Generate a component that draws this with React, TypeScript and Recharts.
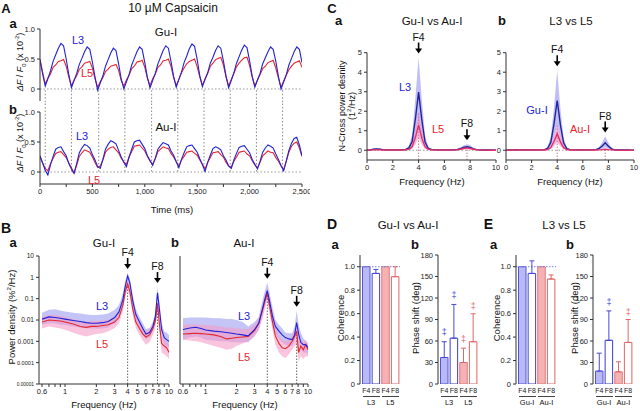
import React from "react";
import {
  ComposedChart,
  LineChart,
  Line,
  Area,
  Bar,
  Cell,
  ErrorBar,
  XAxis,
  YAxis,
  ReferenceLine,
  ReferenceDot,
} from "recharts";

const FONT = '"Liberation Sans", Arial, Helvetica, sans-serif';
const BLUE = "#2222d6";
const RED = "#e6262c";
const BAND_BLUE = "#a4a4f2";
const BAND_PINK = "#f59cc6";
const NAVY = "#23239c";
const MAGENTA = "#e2306a";
const AXIS = "#333";
const TICK = { fontSize: 7.5, fill: "#222" };

// ---------- A: dF/F0 traces (25 ms samples) ----------
const A_STEP_MS = 25;
const A_GU_L3 = [
  0.48, 0.25,
  0.05, 0.17, 0.3, 0.46, 0.57, 0.68, 0.76, 0.72, 0.5, 0.24,
  0.02, 0.14, 0.26, 0.41, 0.51, 0.62, 0.7, 0.66, 0.45, 0.2,
  -0.02, 0.1, 0.22, 0.38, 0.49, 0.6, 0.68, 0.64, 0.42, 0.17,
  0.0, 0.12, 0.24, 0.4, 0.51, 0.62, 0.7, 0.66, 0.44, 0.19,
  0.02, 0.14, 0.26, 0.42, 0.53, 0.64, 0.72, 0.68, 0.46, 0.21,
  0.03, 0.16, 0.28, 0.44, 0.55, 0.67, 0.75, 0.71, 0.49, 0.22,
  0.04, 0.16, 0.27, 0.43, 0.53, 0.64, 0.72, 0.68, 0.47, 0.22,
  0.02, 0.14, 0.27, 0.43, 0.54, 0.65, 0.73, 0.69, 0.47, 0.21,
  0.03, 0.15, 0.26, 0.42, 0.52, 0.62, 0.7, 0.66, 0.46, 0.21,
  0.0, 0.12, 0.24, 0.4, 0.51, 0.62, 0.7, 0.66, 0.44,
];
const A_GU_L5 = [
  0.5, 0.28,
  0.08, 0.18, 0.25, 0.36, 0.4, 0.46, 0.47, 0.49, 0.38, 0.2,
  0.05, 0.15, 0.22, 0.33, 0.37, 0.43, 0.44, 0.46, 0.35, 0.17,
  0.03, 0.12, 0.19, 0.29, 0.33, 0.38, 0.39, 0.41, 0.31, 0.14,
  0.05, 0.15, 0.23, 0.34, 0.38, 0.45, 0.46, 0.48, 0.36, 0.18,
  0.06, 0.17, 0.25, 0.36, 0.4, 0.47, 0.48, 0.5, 0.38, 0.19,
  0.06, 0.16, 0.27, 0.35, 0.42, 0.46, 0.48, 0.5, 0.37, 0.2,
  0.06, 0.17, 0.26, 0.38, 0.43, 0.49, 0.51, 0.53, 0.4, 0.2,
  0.05, 0.16, 0.26, 0.37, 0.43, 0.48, 0.52, 0.53, 0.39, 0.2,
  0.05, 0.15, 0.24, 0.34, 0.38, 0.44, 0.46, 0.48, 0.35, 0.18,
  0.03, 0.13, 0.23, 0.32, 0.38, 0.43, 0.45, 0.47, 0.36,
];
const A_AU_L3 = [
  0.27, 0.15, 0.03,
  -0.05, 0.12, 0.26, 0.38, 0.41, 0.42, 0.34, 0.27, 0.14, 0.05,
  -0.02, 0.14, 0.32, 0.4, 0.46, 0.44, 0.4, 0.29, 0.2, 0.09,
  0.06, 0.21, 0.38, 0.46, 0.52, 0.5, 0.47, 0.36, 0.25, 0.16,
  0.09, 0.25, 0.38, 0.5, 0.52, 0.53, 0.46, 0.39, 0.27, 0.19,
  0.11, 0.23, 0.38, 0.44, 0.49, 0.47, 0.45, 0.35, 0.28, 0.17,
  0.07, 0.21, 0.32, 0.42, 0.44, 0.45, 0.39, 0.33, 0.22, 0.12,
  0.01, 0.16, 0.28, 0.39, 0.42, 0.4, 0.37, 0.27, 0.2, 0.1,
  0.06, 0.2, 0.31, 0.41, 0.43, 0.44, 0.38, 0.32, 0.21, 0.13,
  0.05, 0.18, 0.33, 0.4, 0.45, 0.43, 0.4, 0.3, 0.21, 0.11,
  0.02, 0.18, 0.36, 0.48, 0.56, 0.58, 0.45, 0.27,
];
const A_AU_L5 = [
  0.25, 0.15, 0.06,
  0.02, 0.14, 0.23, 0.31, 0.33, 0.34, 0.29, 0.24, 0.15, 0.07,
  -0.02, 0.11, 0.26, 0.32, 0.37, 0.35, 0.33, 0.25, 0.16, 0.08,
  0.1, 0.2, 0.33, 0.38, 0.41, 0.42, 0.37, 0.32, 0.23, 0.17,
  0.13, 0.25, 0.34, 0.43, 0.44, 0.45, 0.4, 0.35, 0.26, 0.18,
  0.13, 0.22, 0.34, 0.38, 0.42, 0.4, 0.39, 0.31, 0.25, 0.17,
  0.1, 0.2, 0.26, 0.33, 0.34, 0.35, 0.31, 0.28, 0.2, 0.13,
  0.05, 0.16, 0.24, 0.32, 0.33, 0.34, 0.29, 0.25, 0.16, 0.1,
  0.08, 0.18, 0.25, 0.33, 0.34, 0.35, 0.3, 0.27, 0.19, 0.12,
  0.07, 0.16, 0.27, 0.31, 0.35, 0.33, 0.32, 0.24, 0.18, 0.1,
  0.04, 0.18, 0.33, 0.43, 0.48, 0.5, 0.4, 0.26,
];
const A_TROUGHS_MS = [50, 300, 560, 810, 1065, 1315, 1565, 1815, 2065, 2315];
const A_X_TICKS = [0, 250, 500, 750, 1000, 1250, 1500, 1750, 2000, 2250, 2500];
const A_Y_TICKS = [0, 0.5, 1];

// ---------- B: power spectral density (log-log) ----------
const B_FREQ = [0.6, 0.7, 0.8, 0.9, 1, 1.2, 1.4, 1.6, 1.8, 2, 2.3, 2.6, 3, 3.3, 3.6, 3.8, 4, 4.2, 4.5, 4.8, 5.2, 5.6, 6, 6.5, 7, 7.4, 7.75, 8.1, 8.5, 9, 9.5, 10];
const BA_L3 = [0.011, 0.014, 0.013, 0.012, 0.011, 0.0095, 0.0085, 0.0075, 0.007, 0.007, 0.0075, 0.0085, 0.013, 0.024, 0.09, 0.4, 1.15, 0.55, 0.07, 0.018, 0.008, 0.004, 0.0022, 0.0026, 0.005, 0.015, 0.19, 0.03, 0.0035, 0.0015, 0.0012, 0.001];
const BA_L3_HI = [0.022, 0.03, 0.032, 0.028, 0.025, 0.022, 0.02, 0.018, 0.017, 0.017, 0.018, 0.02, 0.03, 0.05, 0.17, 0.7, 1.6, 0.9, 0.13, 0.032, 0.014, 0.007, 0.0038, 0.0042, 0.008, 0.025, 0.35, 0.06, 0.007, 0.003, 0.0025, 0.002];
const BA_L3_LO = [0.006, 0.007, 0.007, 0.006, 0.006, 0.005, 0.0045, 0.004, 0.004, 0.004, 0.004, 0.0045, 0.0075, 0.013, 0.05, 0.22, 0.75, 0.33, 0.035, 0.01, 0.0045, 0.0022, 0.0013, 0.0015, 0.003, 0.008, 0.1, 0.015, 0.0017, 0.0007, 0.0006, 0.0005];
const BA_L5 = [0.008, 0.01, 0.0095, 0.009, 0.008, 0.0065, 0.005, 0.0045, 0.005, 0.005, 0.0055, 0.006, 0.008, 0.013, 0.05, 0.22, 0.5, 0.22, 0.03, 0.008, 0.004, 0.0022, 0.0016, 0.002, 0.004, 0.009, 0.06, 0.006, 0.0008, 0.0006, 0.0005, 0.0003];
const BA_L5_HI = [0.014, 0.017, 0.017, 0.016, 0.014, 0.011, 0.009, 0.008, 0.009, 0.009, 0.0095, 0.01, 0.013, 0.021, 0.085, 0.38, 0.8, 0.38, 0.05, 0.014, 0.007, 0.004, 0.003, 0.0035, 0.007, 0.015, 0.1, 0.012, 0.0016, 0.0012, 0.001, 0.0006];
const BA_L5_LO = [0.004, 0.005, 0.0045, 0.004, 0.0035, 0.0025, 0.002, 0.0017, 0.002, 0.0022, 0.0024, 0.003, 0.0042, 0.007, 0.025, 0.12, 0.28, 0.12, 0.015, 0.0042, 0.002, 0.0011, 0.0007, 0.0009, 0.002, 0.0045, 0.025, 0.0025, 0.0003, 0.00025, 0.0002, 0.00015];
const BB_L3 = [0.0036, 0.0042, 0.0046, 0.004, 0.0034, 0.003, 0.0028, 0.0026, 0.0024, 0.0022, 0.002, 0.0018, 0.0035, 0.007, 0.035, 0.1, 0.24, 0.08, 0.015, 0.005, 0.003, 0.002, 0.0015, 0.0013, 0.0012, 0.002, 0.0075, 0.0022, 0.0009, 0.0007, 0.0007, 0.0005];
const BB_L3_HI = [0.012, 0.013, 0.013, 0.013, 0.013, 0.012, 0.012, 0.011, 0.011, 0.01, 0.008, 0.005, 0.008, 0.014, 0.09, 0.25, 0.56, 0.2, 0.04, 0.01, 0.006, 0.004, 0.0026, 0.0024, 0.0024, 0.005, 0.027, 0.006, 0.0025, 0.0014, 0.001, 0.0008];
const BB_L3_LO = [0.0012, 0.0015, 0.0017, 0.0015, 0.0012, 0.0011, 0.001, 0.001, 0.0009, 0.0009, 0.0009, 0.0009, 0.0018, 0.0035, 0.015, 0.05, 0.12, 0.035, 0.006, 0.0022, 0.0013, 0.0009, 0.0007, 0.0006, 0.0006, 0.001, 0.003, 0.001, 0.0004, 0.0003, 0.0003, 0.00025];
const BB_L5 = [0.0022, 0.0023, 0.0024, 0.0023, 0.0022, 0.002, 0.0017, 0.0013, 0.0014, 0.0015, 0.0016, 0.0017, 0.0032, 0.007, 0.03, 0.08, 0.18, 0.05, 0.008, 0.0018, 0.0008, 0.0005, 0.00045, 0.0006, 0.001, 0.0017, 0.003, 0.0003, 0.0006, 0.0004, 0.0007, 0.0004];
const BB_L5_HI = [0.006, 0.0062, 0.0062, 0.006, 0.0058, 0.0055, 0.005, 0.0045, 0.0045, 0.004, 0.0038, 0.0038, 0.006, 0.012, 0.06, 0.15, 0.3, 0.1, 0.018, 0.004, 0.0018, 0.0012, 0.001, 0.0012, 0.002, 0.0035, 0.008, 0.001, 0.0012, 0.0009, 0.0012, 0.0008];
const BB_L5_LO = [0.0012, 0.0011, 0.001, 0.0009, 0.0008, 0.0006, 0.0005, 0.0004, 0.00045, 0.0006, 0.0008, 0.001, 0.0017, 0.0035, 0.012, 0.035, 0.09, 0.02, 0.0035, 0.0007, 0.0003, 0.0002, 0.00016, 0.00025, 0.0004, 0.0006, 0.0008, 0.00011, 0.0002, 0.00015, 0.0002, 0.0002];
const B_X_TICKS = [0.6, 0.7, 0.8, 0.9, 1, 2, 3, 4, 5, 6, 7, 8, 9, 10];
const B_X_LABELED = [0.6, 1, 2, 3, 4, 5, 6, 7, 8, 10];
const B_Y_TICKS = [0.00001, 0.0001, 0.001, 0.01, 0.1, 1, 10];
const F4 = 4;
const F8 = 7.75;

// ---------- C: normalised cross power density ----------
const C_FREQ = [0, 0.25, 0.5, 0.75, 1, 1.25, 1.5, 2, 2.5, 3, 3.25, 3.5, 3.75, 4, 4.25, 4.5, 4.75, 5, 5.5, 6, 6.5, 7, 7.25, 7.5, 7.75, 8, 8.25, 8.5, 9, 9.5, 10];
const CA_L3 = [0, 0.02, 0.05, 0.07, 0.05, 0.03, 0.02, 0.02, 0.02, 0.04, 0.12, 0.45, 1.6, 2.98, 1.55, 0.42, 0.1, 0.04, 0.02, 0.02, 0.02, 0.04, 0.08, 0.14, 0.18, 0.14, 0.07, 0.03, 0.01, 0.01, 0];
const CA_L3_HI = [0, 0.04, 0.09, 0.12, 0.09, 0.05, 0.04, 0.04, 0.04, 0.07, 0.22, 0.8, 2.7, 4.75, 2.6, 0.75, 0.18, 0.07, 0.04, 0.04, 0.04, 0.07, 0.15, 0.25, 0.31, 0.26, 0.13, 0.05, 0.02, 0.02, 0];
const CA_L3_LO = [0, 0.01, 0.02, 0.03, 0.02, 0.01, 0.01, 0.01, 0.01, 0.02, 0.05, 0.2, 0.8, 1.5, 0.75, 0.2, 0.05, 0.02, 0.01, 0.01, 0.01, 0.02, 0.04, 0.07, 0.09, 0.07, 0.03, 0.01, 0, 0, 0];
const CA_L5 = [0, 0.01, 0.02, 0.03, 0.02, 0.01, 0.01, 0.01, 0.01, 0.02, 0.05, 0.18, 0.65, 1.3, 0.62, 0.17, 0.05, 0.02, 0.01, 0.01, 0.01, 0.02, 0.05, 0.09, 0.12, 0.09, 0.05, 0.02, 0.01, 0, 0];
const CA_L5_HI = [0, 0.02, 0.04, 0.05, 0.04, 0.02, 0.02, 0.02, 0.02, 0.04, 0.1, 0.3, 1.05, 1.95, 1.0, 0.28, 0.09, 0.04, 0.02, 0.02, 0.02, 0.04, 0.09, 0.16, 0.2, 0.16, 0.09, 0.04, 0.02, 0, 0];
const CA_L5_LO = [0, 0, 0.01, 0.01, 0.01, 0, 0, 0, 0, 0.01, 0.02, 0.08, 0.3, 0.65, 0.28, 0.07, 0.02, 0.01, 0, 0, 0, 0.01, 0.02, 0.04, 0.05, 0.04, 0.02, 0.01, 0, 0, 0];
const CB_GU = [0, 0.01, 0.02, 0.03, 0.02, 0.02, 0.02, 0.02, 0.02, 0.03, 0.1, 0.4, 1.35, 2.55, 1.3, 0.38, 0.08, 0.03, 0.02, 0.02, 0.02, 0.03, 0.08, 0.2, 0.38, 0.2, 0.07, 0.02, 0.01, 0.01, 0];
const CB_GU_HI = [0, 0.02, 0.03, 0.05, 0.03, 0.03, 0.03, 0.03, 0.03, 0.05, 0.18, 0.7, 2.2, 4.1, 2.15, 0.65, 0.14, 0.05, 0.03, 0.03, 0.03, 0.05, 0.15, 0.38, 0.7, 0.38, 0.13, 0.04, 0.02, 0.02, 0];
const CB_GU_LO = [0, 0, 0.01, 0.01, 0.01, 0.01, 0.01, 0.01, 0.01, 0.01, 0.04, 0.18, 0.65, 1.3, 0.62, 0.17, 0.03, 0.01, 0.01, 0.01, 0.01, 0.01, 0.03, 0.08, 0.15, 0.08, 0.03, 0.01, 0, 0, 0];
const CB_AU = [0, 0, 0.01, 0.01, 0.01, 0.01, 0.01, 0.01, 0.01, 0.01, 0.04, 0.14, 0.45, 0.85, 0.43, 0.13, 0.03, 0.01, 0.01, 0.01, 0.01, 0.01, 0.02, 0.03, 0.05, 0.03, 0.02, 0.01, 0, 0, 0];
const CB_AU_HI = [0, 0.01, 0.02, 0.02, 0.02, 0.02, 0.02, 0.02, 0.02, 0.02, 0.07, 0.23, 0.72, 1.35, 0.7, 0.22, 0.05, 0.02, 0.02, 0.02, 0.02, 0.02, 0.04, 0.06, 0.09, 0.06, 0.04, 0.02, 0, 0, 0];
const CB_AU_LO = [0, 0, 0, 0, 0, 0, 0, 0, 0, 0, 0.02, 0.06, 0.2, 0.4, 0.2, 0.06, 0.01, 0, 0, 0, 0, 0, 0.01, 0.01, 0.02, 0.01, 0.01, 0, 0, 0, 0];

// ---------- D / E: coherence and phase shift ----------
const D_KEYS = ["L3|F4", "L3|F8", "L5|F4", "L5|F8"];
const DA_COH = [1.0, 0.943, 1.0, 0.915];
const DA_ERR = [null, 0.034, null, 0.085];
const DB_PHASE = [37, 64, 30, 59];
const DB_ERR = [22, 47, 20, 39];
const DB_MARK = [72, 124, 63, 109];
const E_KEYS = ["Gu-I|F4", "Gu-I|F8", "Au-I|F4", "Au-I|F8"];
const EA_COH = [1.0, 0.943, 1.0, 0.895];
const EA_ERR = [null, 0.107, null, 0.035];
const EB_PHASE = [18, 61, 17, 58];
const EB_ERR = [25, 41, 14, 32];
const EB_MARK = [null, 115, null, 101];

const BAR_FILL = ["#b9b9f6", "#ffffff", "#f6b2b2", "#ffffff"];
const BAR_STROKE = ["#5454d6", "#3c3cd0", "#e07878", "#e06464"];
const BAR_BLUE = "#4848d2";
const BAR_RED = "#e06868";

const fmtTime = (v: number) => (v % 500 === 0 ? v.toLocaleString("en-US") : "");
const fmtA = (v: number) => (v === 0 ? "0" : v.toFixed(1));
const fmtBX = (v: number) => (B_X_LABELED.includes(v) ? String(v) : "");
const fmtBY = (v: number) => (v >= 1 ? String(v) : v.toFixed(Math.round(-Math.log10(v))));

function traceRows(l3: number[], l5: number[]) {
  return l3.map((v, i) => ({ t: i * A_STEP_MS, l3: v, l5: l5[i] }));
}

function bandRows(freq: number[], l3: number[], l3lo: number[], l3hi: number[], l5: number[], l5lo: number[], l5hi: number[]) {
  return freq.map((f, i) => ({
    f,
    l3: l3[i],
    l3Hi: l3hi[i],
    l3Band: [l3lo[i], l3hi[i]],
    l5: l5[i],
    l5Hi: l5hi[i],
    l5Band: [l5lo[i], l5hi[i]],
  }));
}

function barRows(keys: string[], vals: number[], errs: (number | null)[], marks: (number | null)[] | null) {
  return keys.map((key, i) => ({
    key,
    v: vals[i],
    errBlue: i < 2 && errs[i] != null ? [0, errs[i]] : undefined,
    errRed: i >= 2 && errs[i] != null ? [0, errs[i]] : undefined,
    mark: marks ? marks[i] : null,
  }));
}

const ROWS_AA = traceRows(A_GU_L3, A_GU_L5);
const ROWS_AB = traceRows(A_AU_L3, A_AU_L5);
const ROWS_BA = bandRows(B_FREQ, BA_L3, BA_L3_LO, BA_L3_HI, BA_L5, BA_L5_LO, BA_L5_HI);
const ROWS_BB = bandRows(B_FREQ, BB_L3, BB_L3_LO, BB_L3_HI, BB_L5, BB_L5_LO, BB_L5_HI);
const ROWS_CA = bandRows(C_FREQ, CA_L3, CA_L3_LO, CA_L3_HI, CA_L5, CA_L5_LO, CA_L5_HI);
const ROWS_CB = bandRows(C_FREQ, CB_GU, CB_GU_LO, CB_GU_HI, CB_AU, CB_AU_LO, CB_AU_HI);

type TxtProps = {
  x: number;
  y: number;
  size?: number;
  bold?: boolean;
  color?: string;
  rotate?: boolean;
  children: React.ReactNode;
};

function Txt({ x, y, size = 11, bold = false, color = "#111", rotate = false, children }: TxtProps) {
  return (
    <div
      style={{
        position: "absolute",
        left: x,
        top: y,
        transform: `translate(-50%, -50%)${rotate ? " rotate(-90deg)" : ""}`,
        fontSize: size,
        fontWeight: bold ? 700 : 400,
        color,
        whiteSpace: "nowrap",
        lineHeight: 1.1,
        textAlign: "center",
      }}
    >
      {children}
    </div>
  );
}

const supStyle: React.CSSProperties = { fontSize: "65%", verticalAlign: "super", lineHeight: 0 };
const subStyle: React.CSSProperties = { fontSize: "65%", verticalAlign: "sub", lineHeight: 0 };

function arrow(label: string) {
  return (p: any) => {
    const tip = p.cy - 4;
    return (
      <g>
        <line x1={p.cx} x2={p.cx} y1={tip - 11} y2={tip - 4} stroke="#000" strokeWidth={1.6} />
        <path d={`M${p.cx - 3.5},${tip - 5}L${p.cx + 3.5},${tip - 5}L${p.cx},${tip}Z`} fill="#000" />
        <text x={p.cx} y={tip - 13} textAnchor="middle" fontSize={10.5} fill="#111">
          {label}
        </text>
      </g>
    );
  };
}

function BYTick(p: any) {
  const label = fmtBY(p.payload.value);
  const size = label.length >= 7 ? 4.8 : label.length === 6 ? 5.6 : 6.6;
  return (
    <text x={p.x} y={p.y} dy={size * 0.35} textAnchor="end" fontSize={size} fill="#222">
      {label}
    </text>
  );
}

function TraceChart({ rows, top, height, marginTop, showTime, segFrom, segTo }: any) {
  return (
    <div style={{ position: "absolute", left: 0, top }}>
      <LineChart width={310} height={height} data={rows} margin={{ top: marginTop, right: 8, bottom: showTime ? 0 : 2, left: 0 }}>
        <XAxis type="number" dataKey="t" domain={[0, 2500]} ticks={A_X_TICKS} interval={0} hide={!showTime} height={24} tickSize={3} tick={TICK} tickFormatter={fmtTime} stroke={AXIS} allowDataOverflow />
        <YAxis type="number" domain={[-0.2, 1]} ticks={A_Y_TICKS} width={40} tickSize={3} tick={TICK} tickFormatter={fmtA} stroke={AXIS} allowDataOverflow />
        <ReferenceLine y={0} stroke="#999" strokeDasharray="1.5 2" />
        {A_TROUGHS_MS.map((t) => (
          <ReferenceLine key={t} segment={[{ x: t, y: segFrom }, { x: t, y: segTo }]} stroke="#888" strokeDasharray="1.5 2" ifOverflow="visible" />
        ))}
        <Line type="linear" dataKey="l5" stroke={RED} strokeWidth={1.1} dot={false} activeDot={false} isAnimationActive={false} />
        <Line type="linear" dataKey="l3" stroke={BLUE} strokeWidth={1.1} dot={false} activeDot={false} isAnimationActive={false} />
      </LineChart>
    </div>
  );
}

function PowerChart({ left, yw, width, rows, yLabels }: any) {
  const p4 = rows.find((r: any) => r.f === F4);
  const p8 = rows.find((r: any) => r.f === F8);
  return (
    <div style={{ position: "absolute", left, top: 236 }}>
      <ComposedChart width={width} height={166} data={rows} margin={{ top: 20, right: 6, bottom: 0, left: 0 }}>
        <XAxis type="number" dataKey="f" scale="log" domain={[0.6, 10]} ticks={B_X_TICKS} interval={0} padding={{ left: 3, right: 0 }} height={18} tickSize={3} tick={TICK} tickFormatter={fmtBX} stroke={AXIS} allowDataOverflow />
        <YAxis type="number" scale="log" domain={[0.00001, 10]} ticks={B_Y_TICKS} interval={0} width={yw} tickSize={3} tick={yLabels ? <BYTick /> : false} stroke={AXIS} allowDataOverflow />
        <Area type="linear" dataKey="l3Band" stroke="none" fill={BAND_BLUE} fillOpacity={0.65} isAnimationActive={false} />
        <Area type="linear" dataKey="l5Band" stroke="none" fill={BAND_PINK} fillOpacity={0.6} isAnimationActive={false} />
        <ReferenceLine segment={[{ x: F4, y: 0.00001 }, { x: F4, y: p4.l5 }]} stroke="#666" strokeDasharray="1.5 1.5" />
        <ReferenceLine segment={[{ x: F8, y: 0.00001 }, { x: F8, y: p8.l5 }]} stroke="#666" strokeDasharray="1.5 1.5" />
        <Line type="linear" dataKey="l5" stroke={RED} strokeWidth={1.1} dot={false} activeDot={false} isAnimationActive={false} />
        <Line type="linear" dataKey="l3" stroke={BLUE} strokeWidth={1.1} dot={false} activeDot={false} isAnimationActive={false} />
        <ReferenceDot x={F4} y={p4.l3Hi} r={0} shape={arrow("F4")} ifOverflow="visible" />
        <ReferenceDot x={F8} y={p8.l3Hi} r={0} shape={arrow("F8")} ifOverflow="visible" />
      </ComposedChart>
    </div>
  );
}

function CrossChart({ left, yw, width, right, rows }: any) {
  const p4 = rows.find((r: any) => r.f === F4);
  const p8 = rows.find((r: any) => r.f === F8);
  return (
    <div style={{ position: "absolute", left, top: 28 }}>
      <ComposedChart width={width} height={150} data={rows} margin={{ top: 24.7, right, bottom: 0, left: 0 }}>
        <XAxis type="number" dataKey="f" domain={[0, 10]} ticks={[0, 2, 4, 6, 8, 10]} interval={0} height={18} tickSize={3} tick={TICK} stroke={AXIS} allowDataOverflow />
        <YAxis type="number" domain={[-0.5, 5]} ticks={[0, 1, 2, 3, 4, 5]} interval={0} width={yw} tickSize={3} tick={TICK} stroke={AXIS} allowDataOverflow />
        <ReferenceLine y={0} stroke="#999" strokeDasharray="1.5 2" />
        <Area type="linear" dataKey="l3Band" stroke="none" fill={BAND_BLUE} fillOpacity={0.7} isAnimationActive={false} />
        <Area type="linear" dataKey="l5Band" stroke="none" fill={BAND_PINK} fillOpacity={0.7} isAnimationActive={false} />
        <ReferenceLine segment={[{ x: F4, y: -0.5 }, { x: F4, y: p4.l5Hi }]} stroke="#c77aa0" strokeDasharray="1.5 1.5" />
        <ReferenceLine segment={[{ x: F8, y: -0.5 }, { x: F8, y: p8.l5Hi }]} stroke="#c77aa0" strokeDasharray="1.5 1.5" />
        <Line type="linear" dataKey="l3" stroke={NAVY} strokeWidth={1.4} dot={false} activeDot={false} isAnimationActive={false} />
        <Line type="linear" dataKey="l5" stroke={MAGENTA} strokeWidth={1.4} dot={false} activeDot={false} isAnimationActive={false} />
        <ReferenceDot x={F4} y={p4.l3Hi} r={0} shape={arrow("F4")} ifOverflow="visible" />
        <ReferenceDot x={F8} y={p8.l3Hi} r={0} shape={arrow("F8")} ifOverflow="visible" />
      </ComposedChart>
    </div>
  );
}

const BAR_YW = 25;
const BAR_PLOT_W = 40;
const BAR_PAD = 1.5;
const BAR_SIZE = 7.5;

function daggerDot(p: any) {
  if (p.value == null || p.cy == null) return <g key={`d${p.index}`} />;
  return (
    <text key={`d${p.index}`} x={p.cx} y={p.cy + 3} textAnchor="middle" fontSize={9} fill={p.index < 2 ? BAR_BLUE : BAR_RED}>
      ‡
    </text>
  );
}

function BarPanel({ left, rows, domain, ticks, fmt, refOne }: any) {
  const plotLeft = left + BAR_YW;
  const cat = (BAR_PLOT_W - BAR_PAD) / 4;
  const off = (cat - BAR_SIZE) / 2;
  const groups = [0, 1].map((g) => ({
    name: rows[g * 2].key.split("|")[0],
    x1: plotLeft + BAR_PAD + 2 * g * cat + off,
    x2: plotLeft + BAR_PAD + (2 * g + 2) * cat - off,
  }));
  return (
    <>
      <div style={{ position: "absolute", left, top: 245 }}>
        <ComposedChart width={BAR_YW + BAR_PLOT_W + 2} height={151} data={rows} margin={{ top: 10, right: 2, bottom: 0, left: 0 }}>
          <XAxis dataKey="key" type="category" tickFormatter={(k: string) => k.split("|")[1]} axisLine={false} tickLine={false} tickSize={0} tickMargin={4} interval={0} height={12} padding={{ left: BAR_PAD, right: 0 }} tick={{ fontSize: 7, fill: "#222" }} />
          <YAxis type="number" domain={domain} ticks={ticks} interval={0} width={BAR_YW} tickSize={3} tick={TICK} tickFormatter={fmt} stroke={AXIS} allowDataOverflow />
          {refOne && <ReferenceLine y={1} stroke="#7c7ce0" strokeDasharray="1.5 1.5" />}
          <Bar dataKey="v" barSize={BAR_SIZE} isAnimationActive={false}>
            {rows.map((_: any, i: number) => (
              <Cell key={i} fill={BAR_FILL[i]} stroke={BAR_STROKE[i]} strokeWidth={1} />
            ))}
            <ErrorBar dataKey="errBlue" width={2.5} stroke={BAR_BLUE} strokeWidth={1} direction="y" />
            <ErrorBar dataKey="errRed" width={2.5} stroke={BAR_RED} strokeWidth={1} direction="y" />
          </Bar>
          <Line dataKey="mark" stroke="none" dot={daggerDot} activeDot={false} isAnimationActive={false} />
        </ComposedChart>
      </div>
      {groups.map((g) => (
        <React.Fragment key={g.name}>
          <div style={{ position: "absolute", left: g.x1, top: 396, width: g.x2 - g.x1, borderTop: "1px solid #444" }} />
          <Txt x={(g.x1 + g.x2) / 2} y={402.5} size={7.5}>
            {g.name}
          </Txt>
        </React.Fragment>
      ))}
    </>
  );
}

const fmtCoh = (v: number) => (v === 0 ? "0" : v.toFixed(1));
const COH_TICKS = [0, 0.2, 0.4, 0.6, 0.8, 1.0];
const PHASE_TICKS = [0, 30, 60, 90, 120, 150, 180];

export default function App() {
  return (
    <div
      style={{
        position: "absolute",
        left: 0,
        top: 0,
        width: 640,
        height: 411,
        background: "#fff",
        fontFamily: FONT,
        color: "#111",
        overflow: "hidden",
      }}
    >
      {/* ---- A ---- */}
      <TraceChart rows={ROWS_AA} top={18} height={85} marginTop={11} showTime={false} segFrom={-0.22} segTo={0} />
      <TraceChart rows={ROWS_AB} top={102} height={106} marginTop={10} showTime segFrom={1.2} segTo={0} />
      <Txt x={6} y={9} size={13} bold>A</Txt>
      <Txt x={173} y={9} size={12}>10 µM Capsaicin</Txt>
      <Txt x={13} y={24} size={13} bold>a</Txt>
      <Txt x={166} y={32} size={11.5}>Gu-I</Txt>
      <Txt x={13} y={110} size={13} bold>b</Txt>
      <Txt x={166} y={127} size={11.5}>Au-I</Txt>
      <Txt x={78} y={40} size={11} color={BLUE}>L3</Txt>
      <Txt x={87} y={73} size={11} color={RED}>L5</Txt>
      <Txt x={82} y={136} size={11} color={BLUE}>L3</Txt>
      <Txt x={94} y={180} size={11} color={RED}>L5</Txt>
      {[62, 143].map((y) => (
        <Txt key={y} x={20.5} y={y} size={9} rotate>
          <i>ΔF</i> / <i>F</i>
          <span style={subStyle}>0</span> (x 10<span style={supStyle}>-2</span>)
        </Txt>
      ))}
      <Txt x={172} y={210} size={9.5}>Time (ms)</Txt>

      {/* ---- B ---- */}
      <PowerChart left={0} yw={39} width={175} rows={ROWS_BA} yLabels />
      <PowerChart left={170} yw={10} width={144} rows={ROWS_BB} yLabels={false} />
      <Txt x={6} y={229} size={14} bold>B</Txt>
      <Txt x={13} y={243} size={13} bold>a</Txt>
      <Txt x={104} y={243} size={11.5}>Gu-I</Txt>
      <Txt x={175} y={243} size={13} bold>b</Txt>
      <Txt x={244} y={243} size={11.5}>Au-I</Txt>
      <Txt x={102} y={306} size={11} color={BLUE}>L3</Txt>
      <Txt x={102} y={344} size={11} color={RED}>L5</Txt>
      <Txt x={244} y={316} size={11} color={BLUE}>L3</Txt>
      <Txt x={244} y={357} size={11} color={RED}>L5</Txt>
      <Txt x={11.5} y={317} size={9.5} rotate>
        Power density (%<span style={supStyle}>2</span>/Hz)
      </Txt>
      <Txt x={104} y={405} size={9.5}>Frequency (Hz)</Txt>
      <Txt x={245} y={405} size={9.5}>Frequency (Hz)</Txt>

      {/* ---- C ---- */}
      <CrossChart left={330} yw={37} width={170} right={4} rows={ROWS_CA} />
      <CrossChart left={492} yw={14} width={147} right={5} rows={ROWS_CB} />
      <Txt x={332} y={9} size={13} bold>C</Txt>
      <Txt x={338.5} y={21} size={13} bold>a</Txt>
      <Txt x={432} y={21} size={11.5}>Gu-I vs Au-I</Txt>
      <Txt x={502} y={21} size={13} bold>b</Txt>
      <Txt x={571} y={21} size={11.5}>L3 vs L5</Txt>
      <Txt x={405} y={87} size={11} color={BLUE}>L3</Txt>
      <Txt x={438} y={129} size={11} color={RED}>L5</Txt>
      <Txt x={537} y={110} size={11} color={BLUE}>Gu-I</Txt>
      <Txt x={580} y={129} size={11} color={RED}>Au-I</Txt>
      <Txt x={347.5} y={106} size={9} rotate>
        <div>N-Cross power desnity</div>
        <div>
          (1<span style={supStyle}>2</span>/Hz)
        </div>
      </Txt>
      <Txt x={432} y={182} size={9.5}>Frequency (Hz)</Txt>
      <Txt x={570} y={182} size={9.5}>Frequency (Hz)</Txt>

      {/* ---- D / E ---- */}
      <BarPanel left={335} rows={barRows(D_KEYS, DA_COH, DA_ERR, null)} domain={[0, 1.1]} ticks={COH_TICKS} fmt={fmtCoh} refOne />
      <BarPanel left={413} rows={barRows(D_KEYS, DB_PHASE, DB_ERR, DB_MARK)} domain={[0, 180]} ticks={PHASE_TICKS} fmt={String} refOne={false} />
      <BarPanel left={491} rows={barRows(E_KEYS, EA_COH, EA_ERR, null)} domain={[0, 1.1]} ticks={COH_TICKS} fmt={fmtCoh} refOne />
      <BarPanel left={568} rows={barRows(E_KEYS, EB_PHASE, EB_ERR, EB_MARK)} domain={[0, 180]} ticks={PHASE_TICKS} fmt={String} refOne={false} />
      <Txt x={332} y={225} size={14} bold>D</Txt>
      <Txt x={408} y={225} size={11.5}>Gu-I vs Au-I</Txt>
      <Txt x={488.5} y={225} size={14} bold>E</Txt>
      <Txt x={564} y={225} size={11.5}>L3 vs L5</Txt>
      <Txt x={335} y={245} size={13} bold>a</Txt>
      <Txt x={415} y={245} size={13} bold>b</Txt>
      <Txt x={493.5} y={245} size={13} bold>a</Txt>
      <Txt x={570} y={245} size={13} bold>b</Txt>
      <Txt x={341} y={318} size={9.5} rotate>Coherence</Txt>
      <Txt x={416} y={318} size={9.5} rotate>Phase shift (deg)</Txt>
      <Txt x={496.5} y={318} size={9.5} rotate>Coherence</Txt>
      <Txt x={574.5} y={318} size={9.5} rotate>Phase shift (deg)</Txt>
    </div>
  );
}
